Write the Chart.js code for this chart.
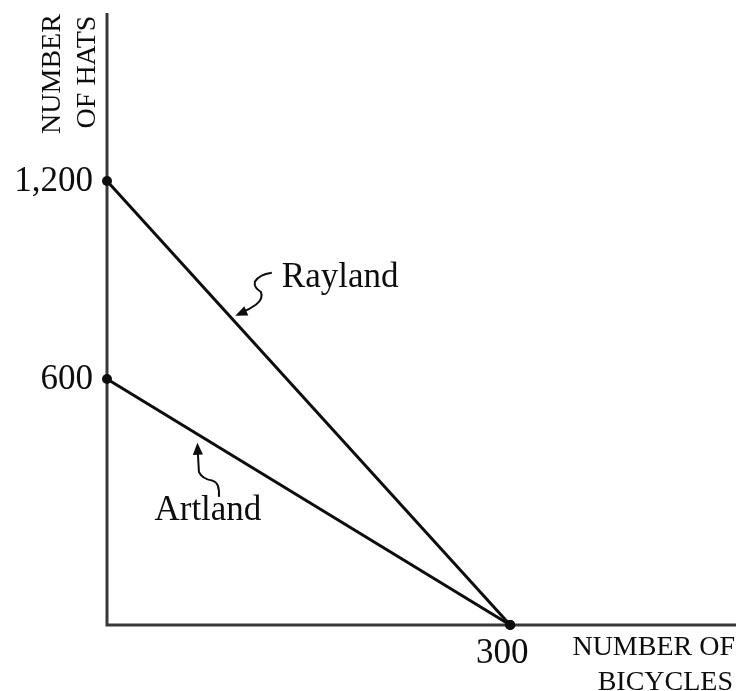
<!DOCTYPE html>
<html>
<head>
<meta charset="utf-8">
<script src="https://cdn.jsdelivr.net/npm/chart.js@4/dist/chart.umd.min.js"></script>
<style>
  html, body { margin: 0; padding: 0; background: #fff; }
  #wrap { width: 741px; height: 691px; }
</style>
</head>
<body>
<div id="wrap"><canvas id="ppf"></canvas></div>
<script>
// data
const bicycles = [0, 300];
const raylandHats = [1200, 0];
const artlandHats = [600, 0];
const countries = ['Rayland', 'Artland'];
const hatTicks = [600, 1200];
const bicycleTicks = [300];

const INK = '#0d0d0d';
const SERIF = "'Liberation Serif', 'DejaVu Serif', serif";

// the figure is not drawn to scale on the hats axis: 600 and 1,200 sit at
// uneven heights, so the y scale maps values through a few break points
const WARP_VALUES = [0, 600, 1200, 1710];
const WARP_FRACS = [0, 0.402, 0.7255, 1];

function warp(v) {
  for (let i = 1; i < WARP_VALUES.length; i++) {
    if (v <= WARP_VALUES[i] || i === WARP_VALUES.length - 1) {
      const a = WARP_VALUES[i - 1], b = WARP_VALUES[i];
      const t = (v - a) / (b - a);
      return WARP_FRACS[i - 1] + t * (WARP_FRACS[i] - WARP_FRACS[i - 1]);
    }
  }
  return 0;
}

class BrokenScale extends Chart.LinearScale {
  getPixelForValue(value) {
    return this.getPixelForDecimal(warp(value));
  }
}
BrokenScale.id = 'broken';
BrokenScale.defaults = Chart.LinearScale.defaults;
Chart.register(BrokenScale);

function toPoints(xs, ys) {
  return xs.map((x, i) => ({ x, y: ys[i] }));
}

// point on a dataset's drawn segment, t from 0 (y axis) to 1 (x axis)
function alongLine(chart, dsIndex, t) {
  const pts = chart.getDatasetMeta(dsIndex).data;
  return {
    x: pts[0].x + t * (pts[1].x - pts[0].x),
    y: pts[0].y + t * (pts[1].y - pts[0].y)
  };
}

function arrowHead(ctx, tip, from, size) {
  const ang = Math.atan2(tip.y - from.y, tip.x - from.x);
  ctx.beginPath();
  ctx.moveTo(tip.x, tip.y);
  ctx.lineTo(tip.x - size * Math.cos(ang - 0.4), tip.y - size * Math.sin(ang - 0.4));
  ctx.lineTo(tip.x - size * Math.cos(ang + 0.4), tip.y - size * Math.sin(ang + 0.4));
  ctx.closePath();
  ctx.fill();
}

const figurePlugin = {
  id: 'figure',
  beforeDatasetsDraw(chart) {
    const { ctx, chartArea: ca, scales } = chart;
    const x0 = scales.x.getPixelForValue(0);
    const y0 = scales.y.getPixelForValue(0);
    ctx.save();
    ctx.strokeStyle = '#383838';
    ctx.lineWidth = 3;
    ctx.beginPath();
    ctx.moveTo(x0, ca.top);
    ctx.lineTo(x0, y0);
    ctx.lineTo(ca.right, y0);
    ctx.stroke();
    ctx.restore();
  },
  afterDatasetsDraw(chart) {
    const { ctx, chartArea: ca, scales } = chart;
    const x0 = scales.x.getPixelForValue(0);
    const y0 = scales.y.getPixelForValue(0);
    ctx.save();
    ctx.fillStyle = INK;
    ctx.strokeStyle = INK;

    // tick labels
    ctx.font = '35px ' + SERIF;
    ctx.textAlign = 'right';
    ctx.textBaseline = 'middle';
    hatTicks.forEach(v => {
      ctx.fillText(v.toLocaleString('en-US'), x0 - 14, scales.y.getPixelForValue(v) + 1);
    });
    ctx.textAlign = 'center';
    ctx.textBaseline = 'alphabetic';
    bicycleTicks.forEach(v => {
      ctx.fillText(String(v), scales.x.getPixelForValue(v) - 8, y0 + 38);
    });

    // axis titles
    ctx.font = '28px ' + SERIF;
    ctx.textAlign = 'right';
    ctx.fillText('NUMBER OF', ca.right - 1, y0 + 30);
    ctx.fillText('BICYCLES', ca.right - 3, y0 + 65);

    ctx.textAlign = 'center';
    [['NUMBER', x0 - 47, ca.top + 61], ['OF HATS', x0 - 12, ca.top + 59]].forEach(([txt, bx, cy]) => {
      ctx.save();
      ctx.translate(bx, cy);
      ctx.rotate(-Math.PI / 2);
      ctx.fillText(txt, 0, 0);
      ctx.restore();
    });

    // Rayland label with squiggly arrow
    ctx.lineWidth = 2;
    const r = alongLine(chart, 0, 0.317);
    ctx.font = '35px ' + SERIF;
    ctx.textAlign = 'left';
    ctx.fillText(countries[0], r.x + 47, r.y - 35);
    ctx.beginPath();
    ctx.moveTo(r.x + 37, r.y - 49);
    ctx.quadraticCurveTo(r.x + 24, r.y - 47, r.x + 20, r.y - 40);
    ctx.quadraticCurveTo(r.x + 19, r.y - 34, r.x + 26, r.y - 30);
    ctx.quadraticCurveTo(r.x + 29, r.y - 23, r.x + 21, r.y - 17);
    ctx.quadraticCurveTo(r.x + 14, r.y - 12, r.x + 8, r.y - 10);
    ctx.stroke();
    arrowHead(ctx, { x: r.x + 0.5, y: r.y - 6 }, { x: r.x + 12, y: r.y - 11 }, 13);

    // Artland label with squiggly arrow
    const a = alongLine(chart, 1, 0.223);
    ctx.textAlign = 'center';
    ctx.fillText(countries[1], a.x + 11, a.y + 86);
    ctx.beginPath();
    ctx.moveTo(a.x + 22, a.y + 63);
    ctx.quadraticCurveTo(a.x + 23, a.y + 49, a.x + 16, a.y + 47);
    ctx.quadraticCurveTo(a.x + 5, a.y + 45, a.x + 2, a.y + 38);
    ctx.lineTo(a.x + 1, a.y + 20);
    ctx.stroke();
    arrowHead(ctx, { x: a.x + 0.5, y: a.y + 9 }, { x: a.x + 1, y: a.y + 22 }, 13);

    ctx.restore();
  }
};

new Chart(document.getElementById('ppf'), {
  type: 'line',
  data: {
    datasets: [
      { label: countries[0], data: toPoints(bicycles, raylandHats) },
      { label: countries[1], data: toPoints(bicycles, artlandHats) }
    ]
  },
  options: {
    responsive: true,
    maintainAspectRatio: false,
    animation: false,
    layout: { padding: { left: 107, right: 3, top: 13, bottom: 66 } },
    elements: {
      line: { borderColor: INK, borderWidth: 3, tension: 0, fill: false },
      point: { radius: 5, backgroundColor: INK, borderColor: INK, borderWidth: 0 }
    },
    datasets: { line: { clip: false } },
    scales: {
      x: { type: 'linear', min: 0, max: 468, display: false },
      y: { type: 'broken', min: 0, max: 1710, display: false }
    },
    plugins: {
      legend: { display: false },
      tooltip: { enabled: false }
    }
  },
  plugins: [figurePlugin]
});
</script>
</body>
</html>
